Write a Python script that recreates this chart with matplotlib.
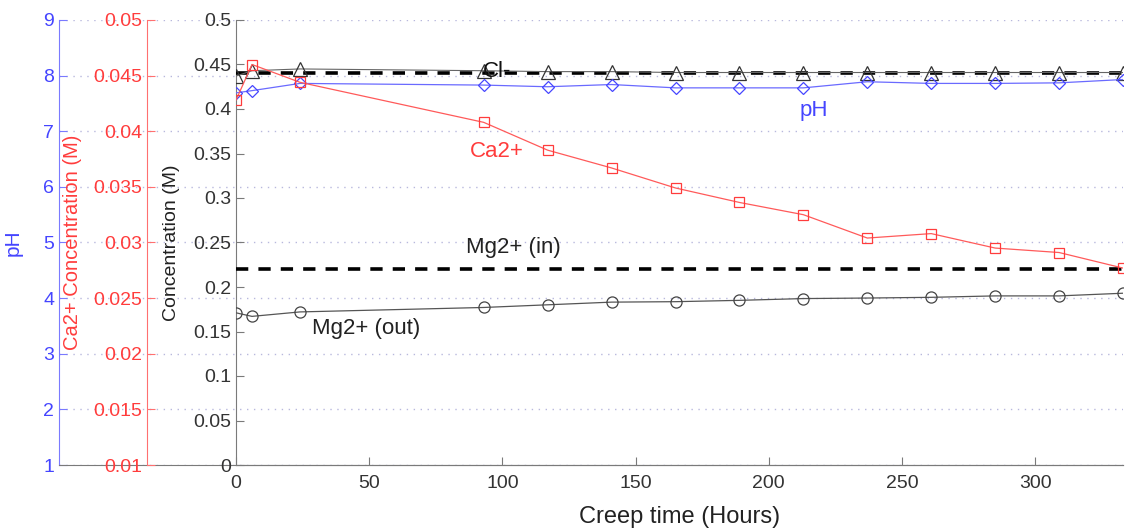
import matplotlib.pyplot as plt

plt.rcParams['font.family'] = ['Liberation Sans', 'DejaVu Sans']

# creep time (hours)
hours = [0, 6, 24, 93, 117, 141, 165, 189, 213, 237, 261, 285, 309, 333]

cl_out = [0.437, 0.443, 0.445, 0.443, 0.442, 0.442, 0.441, 0.441, 0.441, 0.441, 0.441, 0.441, 0.441, 0.441]
cl_in = 0.44
mg_out = [0.171, 0.167, 0.172, 0.177, 0.180, 0.183, 0.1835, 0.185, 0.187, 0.1876, 0.1884, 0.190, 0.190, 0.193]
mg_in = 0.22
ph = [7.69, 7.73, 7.86, 7.83, 7.80, 7.84, 7.78, 7.78, 7.78, 7.89, 7.86, 7.86, 7.87, 7.93]
ca = [0.0428, 0.0460, 0.0444, 0.0408, 0.0383, 0.0367, 0.0349, 0.0336, 0.0325, 0.0304, 0.0308, 0.0295, 0.0291, 0.0277]

ph_ticks = [1, 2, 3, 4, 5, 6, 7, 8, 9]
ca_ticks = [0.01, 0.015, 0.02, 0.025, 0.03, 0.035, 0.04, 0.045, 0.05]
conc_ticks = [0, 0.05, 0.1, 0.15, 0.2, 0.25, 0.3, 0.35, 0.4, 0.45, 0.5]
x_ticks = [0, 50, 100, 150, 200, 250, 300]

BLUE = '#4545ff'
RED = '#ff3c3c'
GRAY = '#7a7a7a'

W, H = 1127, 529
fig = plt.figure(figsize=(W / 100, H / 100), dpi=100)
bot = (H - 465) / H
hgt = 445 / H
right = 1123


def frame(ax, color, spine_color):
    for s in ['top', 'right']:
        ax.spines[s].set_visible(False)
    ax.spines['left'].set_color(spine_color)
    ax.spines['bottom'].set_color(GRAY)
    ax.tick_params(axis='y', direction='in', labelcolor=color, color=spine_color, labelsize=14, length=6)


# pH axis (outermost)
ax_ph = fig.add_axes([59 / W, bot, (right - 59) / W, hgt])
frame(ax_ph, BLUE, '#7a7aff')
ax_ph.set_ylim(1, 9)
ax_ph.set_yticks(ph_ticks)
ax_ph.set_xticks([])
ax_ph.yaxis.grid(True, linestyle=(0, (1, 4)), color='#b8b8dd', linewidth=1)

# Ca2+ axis
ax_ca = fig.add_axes([147 / W, bot, (right - 147) / W, hgt])
ax_ca.patch.set_visible(False)
frame(ax_ca, RED, '#ff7070')
ax_ca.spines['bottom'].set_visible(False)
ax_ca.set_ylim(0.01, 0.05)
ax_ca.set_yticks(ca_ticks)
ax_ca.set_yticklabels([f'{t:g}' for t in ca_ticks])
ax_ca.set_xticks([])

# main concentration axis
ax = fig.add_axes([236 / W, bot, (right - 236) / W, hgt])
ax.patch.set_visible(False)
frame(ax, '#333333', GRAY)
ax.tick_params(axis='x', direction='in', labelcolor='#333333', color=GRAY, labelsize=14, length=6, pad=7)
ax.set_xlim(0, 333)
ax.set_ylim(0, 0.5)
ax.set_xticks(x_ticks)
ax.set_yticks(conc_ticks)
ax.set_yticklabels([f'{t:g}' for t in conc_ticks])
ax.set_xlabel('Creep time (Hours)', fontsize=17, color='#222222', labelpad=10)

# pH and Ca2+ series drawn in main axis using their own scales
ph_lo, ph_hi = ax_ph.get_ylim()
ph_scaled = [(p - ph_lo) / (ph_hi - ph_lo) * 0.5 for p in ph]
ca_lo, ca_hi = ax_ca.get_ylim()
ca_scaled = [(c - ca_lo) / (ca_hi - ca_lo) * 0.5 for c in ca]

dash = (3.4, 2.8)
ax.plot([0, 333], [cl_in, cl_in], color='black', lw=2.6, dashes=dash, zorder=3)
ax.plot([0, 333], [mg_in, mg_in], color='black', lw=2.6, dashes=dash, zorder=3)
ax.plot(hours, cl_out, color='#666666', lw=0.8, marker='^', ms=10, mfc='none', mec='#333333', mew=0.9, zorder=4)
ax.plot(hours, mg_out, color='#555555', lw=0.9, marker='o', ms=8, mfc='none', mec='#444444', mew=0.9, zorder=4)
ax.plot(hours, ph_scaled, color='#6a6aff', lw=0.9, marker='D', ms=6, mfc='none', mec=BLUE, mew=0.9, zorder=4)
ax.plot(hours, ca_scaled, color='#ff5a5a', lw=0.9, marker='s', ms=6.5, mfc='none', mec=RED, mew=0.9, zorder=5)

ax.text(98, 0.442, 'Cl-', fontsize=16, color='#111111', ha='center', va='center', zorder=6)
ax.text(217, 0.398, 'pH', fontsize=16, color=BLUE, ha='center', va='center')
ax.text(98, 0.352, 'Ca2+', fontsize=16, color=RED, ha='center', va='center')
ax.text(104, 0.244, 'Mg2+ (in)', fontsize=16, color='#222222', ha='center', va='center')
ax.text(49, 0.153, 'Mg2+ (out)', fontsize=16, color='#222222', ha='center', va='center')

ymid = bot + hgt / 2
fig.text(13 / W, ymid, 'pH', rotation=90, color=BLUE, fontsize=15, ha='center', va='center')
fig.text(73 / W, ymid, 'Ca2+ Concentration (M)', rotation=90, color=RED, fontsize=14.5, ha='center', va='center')
fig.text(172 / W, ymid, 'Concentration (M)', rotation=90, color='#222222', fontsize=14, ha='center', va='center')

fig.savefig('out.png', dpi=100)
